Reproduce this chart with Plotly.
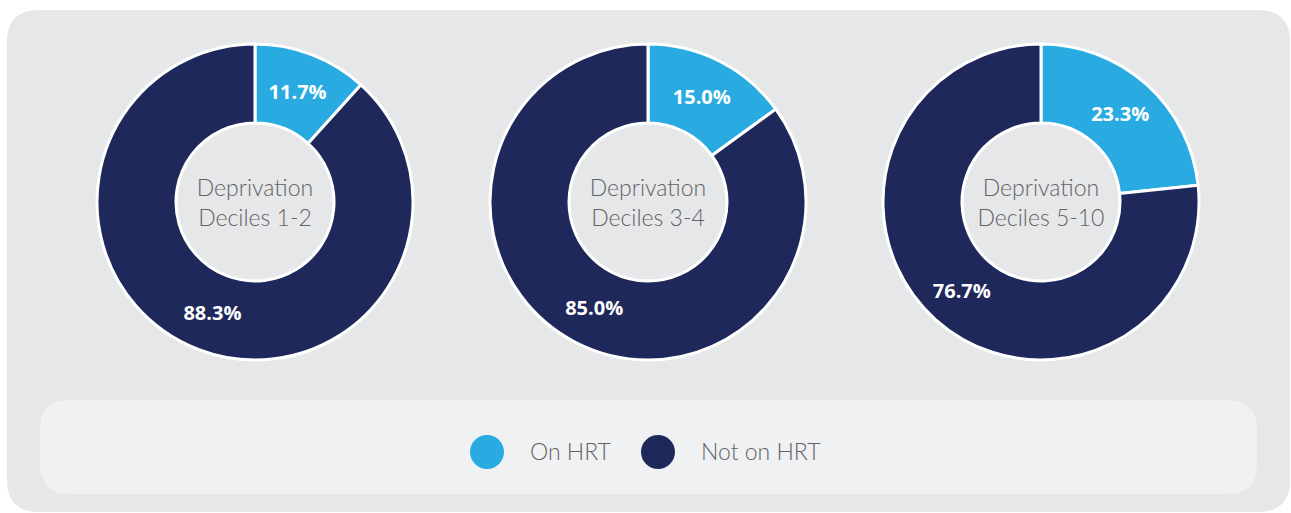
import plotly.graph_objects as go

# ---- data ----
groups = ["Deprivation<br>Deciles 1-2", "Deprivation<br>Deciles 3-4", "Deprivation<br>Deciles 5-10"]
status = ["On HRT", "Not on HRT"]
on_hrt = [11.7, 15.0, 23.3]
not_on_hrt = [88.3, 85.0, 76.7]

# ---- style ----
W, H = 1291, 513
colors = ["#29abe2", "#1f285a"]
panel_col = "#e6e7e9"
legend_col = "#f0f1f3"
text_gray = "#626366"
centers_x = [255, 648, 1041]
center_y = 202          # from top
R = 158


def ytop(y):
    """screen y (from top) -> axis y (from bottom)"""
    return H - y


fig = go.Figure()

for i, g in enumerate(groups):
    cx = centers_x[i]
    fig.add_trace(go.Pie(
        labels=status,
        values=[on_hrt[i], not_on_hrt[i]],
        sort=False,
        direction="clockwise",
        rotation=0,
        hole=0.5,
        marker=dict(colors=colors, line=dict(color="white", width=3)),
        texttemplate="%{value:.1f}%",
        textposition="inside",
        insidetextorientation="horizontal",
        textfont=dict(family="Open Sans", size=20, color="white", weight="bold"),
        title=dict(text=g, position="middle center",
                   font=dict(family="Lato", size=23, color=text_gray, weight=300)),
        domain=dict(x=[(cx - R) / W, (cx + R) / W],
                    y=[(H - (center_y + R)) / H, (H - (center_y - R)) / H]),
        showlegend=False,
        hoverinfo="label+value",
    ))

# ---- legend drawn with markers on a hidden pixel axis ----
leg_marker_x = [487, 658]
leg_y = ytop(452)
fig.add_trace(go.Scatter(
    x=leg_marker_x, y=[leg_y] * 2, mode="markers",
    marker=dict(size=34, color=colors, line=dict(width=0)),
    hoverinfo="skip", showlegend=False,
))
fig.add_trace(go.Scatter(
    x=[x + 43 for x in leg_marker_x], y=[leg_y - 2] * 2, mode="text",
    text=status, textposition="middle right",
    textfont=dict(family="Lato", size=23, color=text_gray, weight=300),
    hoverinfo="skip", showlegend=False,
))


def rounded_rect(x0, y0, x1, y1, r):
    return (f"M{x0+r},{y0} L{x1-r},{y0} Q{x1},{y0} {x1},{y0+r} "
            f"L{x1},{y1-r} Q{x1},{y1} {x1-r},{y1} L{x0+r},{y1} "
            f"Q{x0},{y1} {x0},{y1-r} L{x0},{y0+r} Q{x0},{y0} {x0+r},{y0} Z")


shapes = [
    dict(type="path", xref="x", yref="y", layer="below",
         path=rounded_rect(7, ytop(512), 1290, ytop(10), 32),
         fillcolor=panel_col, line=dict(width=0)),
    dict(type="path", xref="x", yref="y", layer="below",
         path=rounded_rect(40, ytop(494), 1257, ytop(400), 30),
         fillcolor=legend_col, line=dict(width=0)),
]

fig.update_layout(
    width=W, height=H, autosize=False,
    margin=dict(l=0, r=0, t=0, b=0),
    paper_bgcolor="white",
    plot_bgcolor="rgba(0,0,0,0)",
    xaxis=dict(range=[0, W], domain=[0, 1], visible=False, fixedrange=True),
    yaxis=dict(range=[0, H], domain=[0, 1], visible=False, fixedrange=True),
    shapes=shapes,
    uniformtext=dict(minsize=20, mode="show"),
    showlegend=False,
)

fig.write_html(
    "out.html",
    config={"displayModeBar": False},
    post_script=("document.body.style.margin='0';"
                 "document.body.style.overflow='hidden';"
                 "document.documentElement.style.overflow='hidden';"),
)
